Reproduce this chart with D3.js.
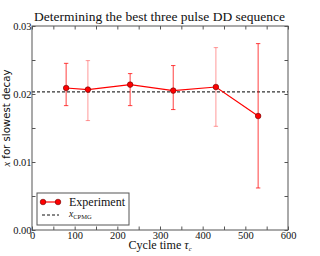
<!DOCTYPE html>
<html><head><meta charset="utf-8">
<script src="https://cdn.jsdelivr.net/npm/d3@7"></script>
<style>body{margin:0;background:#fff}svg{display:block}</style>
</head><body>
<script>
const cycleTimes = [80, 131, 230, 331, 431, 530];
const xValues = [0.02088, 0.02065, 0.02138, 0.0205, 0.02103, 0.01676];
const errTop = [0.02451, 0.02491, 0.0230, 0.02418, 0.02682, 0.02741];
const errBottom = [0.01829, 0.01609, 0.01829, 0.01771, 0.01525, 0.00618];
const errOpacity = [0.75, 0.4, 0.75, 0.75, 0.4, 0.75];
const xCPMG = 0.0203;
const xTicks = [0, 100, 200, 300, 400, 500, 600];
const xMinorTicks = [50, 150, 250, 350, 450, 550];
const yTicks = [0, 0.01, 0.02, 0.03];
const yMinorTicks = [0.005, 0.015, 0.025];

const W = 320, H = 256;
const m = {l: 32, r: 32, t: 26, b: 26};
const svg = d3.select("body").append("svg").attr("width", W).attr("height", H);
const x = d3.scaleLinear().domain([0, 600]).range([m.l, W - m.r]);
const y = d3.scaleLinear().domain([0, 0.03]).range([H - m.b, m.t]);
const serif = "Liberation Serif, DejaVu Serif, serif";
const frame = "#555";

function fit(sel, target, base) {
  const w = sel.node().getComputedTextLength();
  if (w > 0) sel.attr("font-size", base * target / w);
}

// dashed reference
svg.append("line").attr("x1", x(0)).attr("x2", x(600)).attr("y1", y(xCPMG)).attr("y2", y(xCPMG))
  .attr("stroke", "#333").attr("stroke-width", 1.2).attr("stroke-dasharray", "3,2");

// error bars
const cap = 2.2;
cycleTimes.forEach((t, i) => {
  const g = svg.append("g").attr("stroke", "red").attr("stroke-opacity", errOpacity[i]).attr("stroke-width", 1);
  g.append("line").attr("x1", x(t)).attr("x2", x(t)).attr("y1", y(errTop[i])).attr("y2", y(errBottom[i]));
  g.append("line").attr("x1", x(t) - cap).attr("x2", x(t) + cap).attr("y1", y(errTop[i])).attr("y2", y(errTop[i]));
  g.append("line").attr("x1", x(t) - cap).attr("x2", x(t) + cap).attr("y1", y(errBottom[i])).attr("y2", y(errBottom[i]));
});

// line
const line = d3.line().x((d, i) => x(cycleTimes[i])).y(d => y(d));
svg.append("path").datum(xValues).attr("d", line).attr("fill", "none").attr("stroke", "red").attr("stroke-width", 1.2);
svg.selectAll("circle.pt").data(xValues).enter().append("circle").attr("class", "pt")
  .attr("cx", (d, i) => x(cycleTimes[i])).attr("cy", d => y(d)).attr("r", 2.8)
  .attr("fill", "red").attr("stroke", "#600").attr("stroke-width", 0.6);

// frame
svg.append("rect").attr("x", m.l).attr("y", m.t).attr("width", W - m.l - m.r).attr("height", H - m.t - m.b)
  .attr("fill", "none").attr("stroke", frame).attr("stroke-width", 1);

// axes (inward ticks)
const tl = 3.5;
svg.append("g").attr("transform", `translate(0,${H - m.b})`)
  .call(d3.axisBottom(x).tickValues(xTicks).tickSizeInner(-tl).tickSizeOuter(0).tickPadding(1.5).tickFormat(d3.format("d")));
svg.append("g").attr("transform", `translate(0,${H - m.b})`)
  .call(d3.axisBottom(x).tickValues(xMinorTicks).tickSizeInner(-tl).tickSizeOuter(0).tickFormat(""));
svg.append("g").attr("transform", `translate(0,${m.t})`)
  .call(d3.axisTop(x).tickValues(xTicks.concat(xMinorTicks)).tickSizeInner(-tl).tickSizeOuter(0).tickFormat(""));
svg.append("g").attr("transform", `translate(${m.l},0)`)
  .call(d3.axisLeft(y).tickValues(yTicks).tickSizeInner(-tl).tickSizeOuter(0).tickPadding(0.5).tickFormat(d3.format(".2f")));
svg.append("g").attr("transform", `translate(${m.l},0)`)
  .call(d3.axisLeft(y).tickValues(yMinorTicks).tickSizeInner(-tl).tickSizeOuter(0).tickFormat(""));
svg.append("g").attr("transform", `translate(${W - m.r},0)`)
  .call(d3.axisRight(y).tickValues(yTicks.concat(yMinorTicks)).tickSizeInner(-tl).tickSizeOuter(0).tickFormat(""));
svg.selectAll(".domain").remove();
svg.selectAll(".tick line").attr("stroke", frame);
svg.selectAll(".tick text").attr("font-family", serif).attr("font-size", 10.5).attr("fill", "#111");

// title
const title = svg.append("text").attr("x", 159.5).attr("y", 21).attr("text-anchor", "middle")
  .attr("font-family", serif).attr("font-size", 10).attr("fill", "#111").text("Determining the best three pulse DD sequence");
fit(title, 251, 10);

// x label
const xl = svg.append("text").attr("x", 160).attr("y", 248.5).attr("text-anchor", "middle")
  .attr("font-family", serif).attr("font-size", 9.2).attr("fill", "#111");
xl.append("tspan").text("Cycle time ");
xl.append("tspan").attr("font-style", "italic").text("τ");
xl.append("tspan").attr("font-style", "italic").attr("font-size", 6.5).attr("dy", 2).text("c");
fit(xl, 64, 9.2);

// y label
const yl = svg.append("text").attr("transform", `translate(9.5,118) rotate(-90)`)
  .attr("text-anchor", "middle").attr("font-family", "DejaVu Sans, sans-serif").attr("font-size", 8.6).attr("fill", "#111");
yl.append("tspan").attr("font-family", serif).attr("font-style", "italic").text("x");
yl.append("tspan").text(" for slowest decay");
fit(yl, 97, 8.6);

// legend
const lg = svg.append("g");
lg.append("rect").attr("x", 37).attr("y", 193).attr("width", 92).attr("height", 32)
  .attr("fill", "#fff").attr("stroke", frame).attr("stroke-width", 1);
lg.append("line").attr("x1", 43).attr("x2", 58).attr("y1", 202).attr("y2", 202).attr("stroke", "red").attr("stroke-width", 1.2);
[43, 58].forEach(cx => lg.append("circle").attr("cx", cx).attr("cy", 202).attr("r", 2.8)
  .attr("fill", "red").attr("stroke", "#600").attr("stroke-width", 0.6));
const le = lg.append("text").attr("x", 69).attr("y", 205.5).attr("font-family", serif).attr("font-size", 9.4).attr("fill", "#111").text("Experiment");
fit(le, 56, 9.4);
lg.append("line").attr("x1", 42).attr("x2", 59).attr("y1", 215).attr("y2", 215).attr("stroke", "#111").attr("stroke-width", 1).attr("stroke-dasharray", "3,2");
const lt = lg.append("text").attr("x", 69).attr("y", 217).attr("font-family", serif).attr("font-size", 9.6).attr("fill", "#111");
lt.append("tspan").attr("font-style", "italic").text("x");
lt.append("tspan").attr("font-size", 6.5).attr("dy", 2).text("CPMG");
</script>
</body></html>
